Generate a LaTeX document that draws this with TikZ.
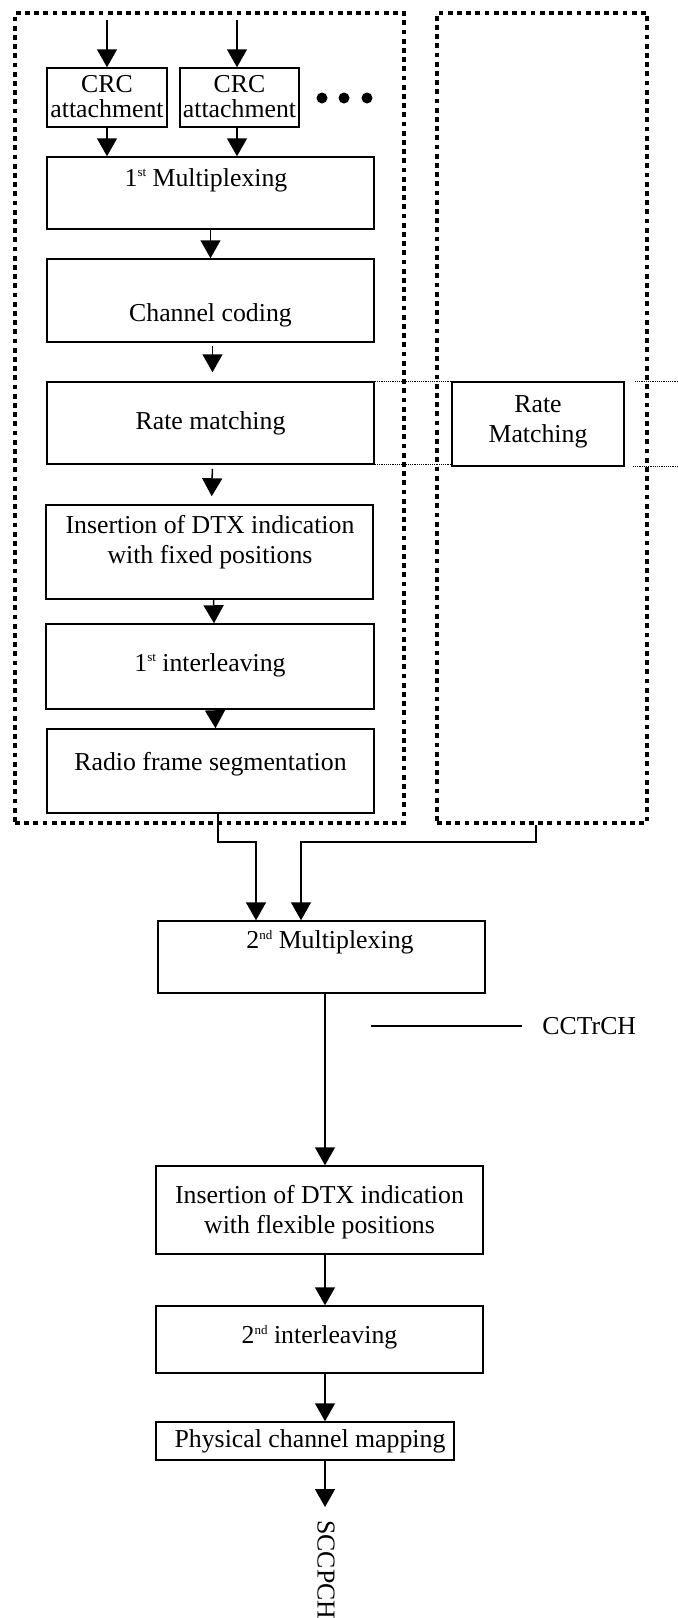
\documentclass[tikz,border=0pt]{standalone}
\usepackage{fontspec}
\setmainfont{Liberation Serif}
\usetikzlibrary{arrows.meta,fit}
% small raised ordinal suffix
\newcommand\ordsfx[1]{\raisebox{0.8ex}{\fontsize{6.5}{6.5}\selectfont #1}}
\begin{document}
\begin{tikzpicture}[x=0.5pt,y=-0.5pt,
  box/.style={draw,line width=0.75pt,inner sep=0pt,rectangle},
  txt/.style={inner sep=0pt,align=center,font=\fontsize{12.9}{15}\selectfont},
  frame/.style={draw,line width=2.4pt,dash pattern=on 2.4pt off 2.2pt,inner sep=0pt,rectangle},
  arr/.style={line width=0.75pt,-{Triangle[length=9pt,width=10pt]}},
  link/.style={line width=0.75pt},
  hair/.style={line width=0.5pt,dash pattern=on 0.6pt off 0.5pt},
  dot/.style={circle,fill,inner sep=0pt,minimum size=5.5pt}]
\useasboundingbox (0,0) rectangle (677,1618);

% dotted frames
\node[frame,fit={(15,13)(404,823)}] (frameL) {};
\node[frame,fit={(437,13)(647,823)}] (frameR) {};

% CRC attachment blocks
\node[box,fit={(47,68)(167,127)}] (crc1) {};
\node[txt,font=\fontsize{12.9}{12.5}\selectfont] (crc1t) at (107,97) {CRC\\attachment};
\node[box,fit={(180,68)(299,127)}] (crc2) {};
\node[txt,font=\fontsize{12.9}{12.5}\selectfont] (crc2t) at (239.5,97) {CRC\\attachment};
\node[dot] (d1) at (322,98) {};
\node[dot] (d2) at (344,98) {};
\node[dot] (d3) at (367,98) {};

% transport channel chain
\node[box,fit={(47,157)(374,229)}] (mux1) {};
\node[txt] (mux1t) at (206,180) {1\ordsfx{st} Multiplexing};
\node[box,fit={(47,259)(374,342)}] (cc) {};
\node[txt] (cct) at (210.5,315) {Channel coding};
\node[box,fit={(47,382)(374,464)}] (rm) {};
\node[txt] (rmt) at (210.5,423) {Rate matching};
\node[box,fit={(452,382)(624,466)}] (rm2) {};
\node[txt] (rm2t) at (538,422) {Rate\\Matching};
\node[box,fit={(46,505)(373,599)}] (dtx1) {};
\node[txt] (dtx1t) at (210,542) {Insertion of DTX indication\\with fixed positions};
\node[box,fit={(46,624)(374,709)}] (il1) {};
\node[txt] (il1t) at (210,665) {1\ordsfx{st} interleaving};
\node[box,fit={(47,729)(374,813)}] (rfs) {};
\node[txt] (rfst) at (210.5,764) {Radio frame segmentation};

% composite channel chain
\node[box,fit={(158,921)(485,993)}] (mux2) {};
\node[txt] (mux2t) at (330,942) {2\ordsfx{nd} Multiplexing};
\node[txt,anchor=west] (cctrch) at (542,1026) {CCTrCH};
\node[box,fit={(156,1166)(483,1254)}] (dtx2) {};
\node[txt] (dtx2t) at (319.5,1212.5) {Insertion of DTX indication\\with flexible positions};
\node[box,fit={(156,1306)(483,1373)}] (il2) {};
\node[txt] (il2t) at (319.5,1337) {2\ordsfx{nd} interleaving};
\node[box,fit={(156,1422)(454,1460)}] (pcm) {};
\node[txt] (pcmt) at (310,1441) {Physical channel mapping};
\node[txt,rotate=-90,anchor=west] (sccpch) at (326,1520) {SCCPCH};

% inputs
\coordinate (in1) at (107,20);
\coordinate (in2) at (237,20);
\draw[arr] (in1) -- (in1 |- crc1.north);
\draw[arr] (in2) -- (in2 |- crc2.north);
\draw[arr] (crc1.south) -- (crc1.south |- mux1.north);
\draw[arr] (in2 |- crc2.south) -- (in2 |- mux1.north);

% left chain arrows
\draw[arr] (mux1.south) -- (cc.north);
\draw[arr,shorten <=1.5pt,shorten >=4.5pt] ([xshift=1pt]cc.south) -- ([xshift=1pt]rm.north);
\draw[arr,shorten <=2pt,shorten >=4pt] ([xshift=1pt]rm.south) -- ([xshift=1pt]dtx1.north);
\draw[arr] ([xshift=2pt]dtx1.south) -- ([xshift=2pt]il1.north);
\draw[arr] ([xshift=2.5pt]il1.south) -- ([xshift=2.5pt]rfs.north);

% rate matching guide lines
\coordinate (e1) at (677,383);
\coordinate (e2) at (677,466);
\draw[hair] (rm.north east) -- (rm2.north west);
\draw[hair] (rm.south east) -- (rm.south east -| rm2.west);
\draw[hair] ([xshift=5pt]rm2.north east) -- (rm2.north east -| e1);
\draw[hair] ([xshift=4pt]rm2.south east) -- (rm2.south east -| e2);

% merge into second multiplexing
\coordinate (j1) at (256,842);
\coordinate (j2) at (301,842);
\draw[arr] ([xshift=3.75pt]rfs.south) |- (j1) -- (j1 |- mux2.north);
\draw[arr] ([xshift=-3pt]frameR.south) |- (j2) -- (j2 |- mux2.north);

% lower chain arrows
\coordinate (col) at (325,0);
\draw[arr] (mux2.south -| col) -- (dtx2.north -| col);
\draw[arr] (dtx2.south -| col) -- (il2.north -| col);
\draw[arr] (il2.south -| col) -- (pcm.north -| col);
\draw[arr,shorten >=6.5pt] (pcm.south -| col) -- (sccpch.west -| col);

% CCTrCH marker
\coordinate (c1) at (371,1026);
\draw[link] (c1) -- ([xshift=-10pt]cctrch.west);
\end{tikzpicture}
\end{document}
